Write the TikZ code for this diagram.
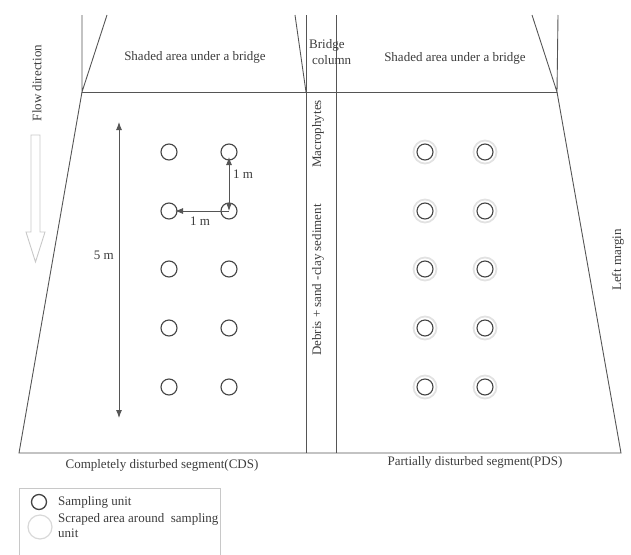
\documentclass[tikz,border=0pt]{standalone}
\usepackage{fontspec}
\setmainfont{Liberation Serif}
\usetikzlibrary{arrows.meta}

\definecolor{linegray}{HTML}{555555}
\definecolor{textgray}{HTML}{3C3C3C}
\definecolor{unitgray}{HTML}{444444}
\definecolor{scrapegray}{HTML}{E2E2E2}
\definecolor{flowgray}{HTML}{C8C8C8}

\tikzset{
    edge/.style={draw=linegray, line width=0.9pt},
    unit/.style={circle, draw=unitgray, line width=1.1pt, minimum size=16pt, inner sep=0pt},
    scraped/.style={circle, draw=scrapegray, line width=1.8pt, minimum size=23pt, inner sep=0pt},
    lbl/.style={text=textgray, font=\fontsize{13}{15}\selectfont, inner sep=0pt},
    tip/.tip={Latex[length=8pt,width=6pt]},
    dim/.style={draw=linegray, line width=0.9pt, -tip}
}

\begin{document}
\begin{tikzpicture}[x=1pt, y=-1pt]
    \useasboundingbox (0,0) rectangle (631,554);

    % bridge and segment outline
    \coordinate (topL) at (82,92);
    \coordinate (topR) at (557,92);
    \coordinate (botL) at (19,453);
    \coordinate (botR) at (621,453);
    \coordinate (colL) at (306,15);
    \coordinate (colR) at (336,15);
    \draw[edge] (82,15) -- (topL) -- (107,15);
    \draw[edge] (558,15) -- (topR) -- (532,15);
    \draw[edge] (295,15) -- (306,92);
    \draw[edge] (topL) -- (topR);
    \draw[edge] (topL) -- (botL) -- (botR) -- (topR);
    \draw[edge] (colL) -- (colL |- botL);
    \draw[edge] (colR) -- (colR |- botL);

    % texts of the top part
    \node[lbl] (shadeL) at (195,57) {Shaded area under a bridge};
    \node[lbl] (shadeR) at (455,58) {Shaded area under a bridge};
    \node[lbl, anchor=west] (bridge) at (309,45) {Bridge};
    \node[lbl, anchor=west] (column) at (312,60) {column};
    \node[lbl, rotate=90] (macro) at (318,134) {Macrophytes};
    \node[lbl, rotate=90] (debris) at (318,280) {Debris + sand -clay sediment};
    \node[lbl, rotate=90] (margin) at (618,260) {Left margin};

    % flow direction
    \node[lbl, rotate=90] (flow) at (37,83) {Flow direction};
    \draw[draw=flowgray, line width=0.9pt] (31,135) -- (40,135) -- (40,232) -- (45,232)
        -- (35.5,262) -- (26,232) -- (31,232) -- cycle;

    % completely disturbed segment
    \foreach \x/\col in {169/a, 229/b} {
        \foreach \y [count=\r] in {152,211,269,328,387} {
            \node[unit] (L\col\r) at (\x,\y) {};
        }
    }
    \coordinate (fiveT) at (119,122);
    \coordinate (fiveB) at (119,418);
    \draw[dim, tip-tip] (fiveB) -- (fiveT);
    \node[lbl, anchor=east] (five) at (114,255) {5 m};
    \draw[dim, tip-tip, shorten >=5pt] (Lb2.center) -- (Lb1.center);
    \draw[dim, shorten >=6pt] (Lb2.center) -- (La2.center);
    \node[lbl, anchor=west] (oneV) at (233,174) {1 m};
    \node[lbl] (oneH) at (200,221) {1 m};

    % partially disturbed segment
    \foreach \x/\col in {425/a, 485/b} {
        \foreach \y [count=\r] in {152,211,269,328,387} {
            \node[scraped] (S\col\r) at (\x,\y) {};
            \node[unit] (R\col\r) at (\x,\y) {};
        }
    }

    % segment names
    \node[lbl] (cds) at (162,465) {Completely disturbed segment(CDS)};
    \node[lbl] (pds) at (475,462) {Partially disturbed segment(PDS)};

    % legend
    \draw[draw=flowgray, line width=0.8pt] (19,556) -- (19,488) -- (220,488) -- (220,556);
    \node[unit, line width=1.3pt, minimum size=15pt] (keyunit) at (39,502) {};
    \node[scraped, draw=scrapegray!90!gray, line width=1.2pt, minimum size=24pt] (keyscrape) at (40,527) {};
    \node[lbl, anchor=west] (keyunittxt) at (58,502) {Sampling unit};
    \node[lbl, anchor=north west, align=left] (keyscrapetxt) at (58,513) {Scraped area around\ \ sampling\\unit};
\end{tikzpicture}
\end{document}
